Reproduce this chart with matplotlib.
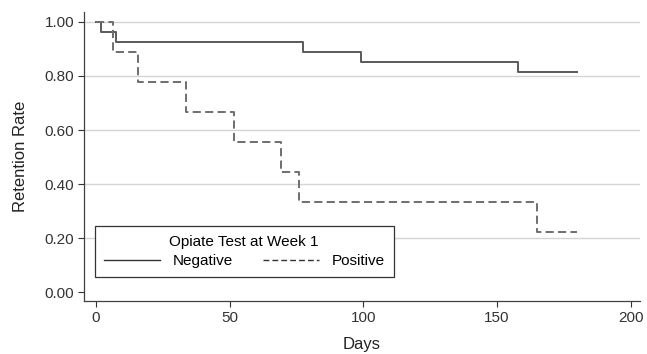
import matplotlib.pyplot as plt

plt.rcParams['font.family'] = ['Liberation Sans', 'DejaVu Sans']

# Kaplan-Meier step data (day of event, retention after event)
neg_days = [0, 2, 7.5, 77.5, 99, 158, 180]
neg_rate = [1.0, 0.963, 0.926, 0.889, 0.852, 0.815, 0.815]

pos_days = [0, 6.3, 15.7, 33.7, 51.7, 69, 76, 165, 180]
pos_rate = [1.0, 0.889, 0.778, 0.667, 0.556, 0.444, 0.333, 0.222, 0.222]

yticks = [0.0, 0.2, 0.4, 0.6, 0.8, 1.0]
xticks = [0, 50, 100, 150, 200]

fig = plt.figure(figsize=(6.47, 3.54), dpi=100)
ax = fig.add_axes([0.1298, 0.1497, 0.8592, 0.8163])

for y in yticks[1:]:
    ax.axhline(y, color='#d4d4d4', lw=1.0, zorder=0)

ax.step(neg_days, neg_rate, where='post', color='#5a5a5a', lw=1.4, label='Negative')
ax.step(pos_days, pos_rate, where='post', color='#6e6e6e', lw=1.4,
        linestyle=(0, (4.2, 2.2)), label='Positive')

ax.set_xlim(-4.5, 203.4)
ax.set_ylim(-0.032, 1.036)
ax.set_xticks(xticks)
ax.set_yticks(yticks)
ax.set_yticklabels(['%.2f' % v for v in yticks])
ax.tick_params(labelsize=11, colors='#333333', length=4, width=0.8, pad=3)

for s in ['top', 'right']:
    ax.spines[s].set_visible(False)
for s in ['left', 'bottom']:
    ax.spines[s].set_color('#404040')
    ax.spines[s].set_linewidth(0.9)

ax.set_xlabel('Days', fontsize=12, labelpad=9, color='#222222')
ax.set_ylabel('Retention Rate', fontsize=12, labelpad=12, color='#222222')

leg = ax.legend(title='Opiate Test at Week 1', ncol=2, loc='lower left',
                bbox_to_anchor=(0.019, 0.082), fontsize=11, title_fontsize=11,
                fancybox=False, edgecolor='#333333', framealpha=1,
                handlelength=3.7, columnspacing=1.95, borderpad=0.6,
                handletextpad=0.8, labelspacing=0.35, borderaxespad=0)
leg.get_frame().set_linewidth(0.9)
for h in leg.get_lines():
    h.set_color('#333333')
    h.set_linewidth(1.0)

fig.savefig('out.png', dpi=100)
